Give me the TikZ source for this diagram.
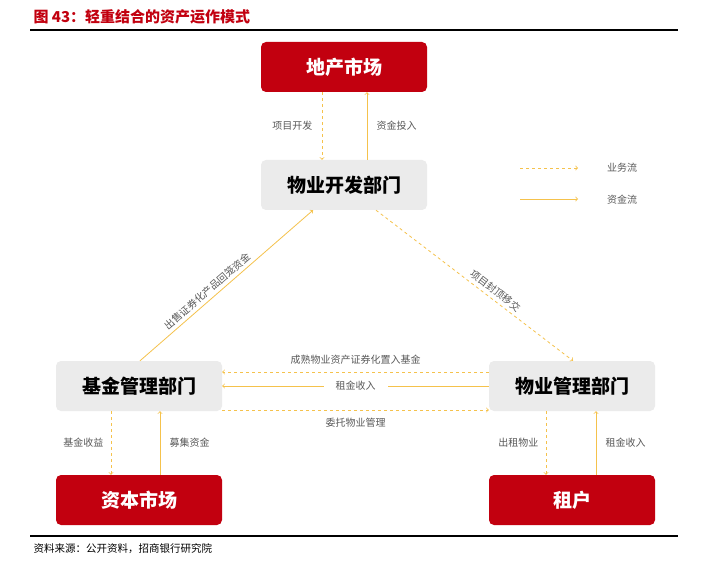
\documentclass[tikz,border=0pt]{standalone}
\usepackage{fontspec}
\setmainfont{Noto Sans CJK SC}
\usepackage{xcolor}
\definecolor{marche}{rgb}{0.76, 0.0, 0.06}
\definecolor{departement}{rgb}{0.92, 0.92, 0.92}
\definecolor{flux}{rgb}{0.96, 0.76, 0.30}
\definecolor{legende}{rgb}{0.35, 0.35, 0.35}
\usepackage{tikz}
\usetikzlibrary{calc}
\tikzstyle{rouge} = [rectangle, rounded corners=5pt, fill=marche, minimum height=50pt, minimum width=166pt, text=white, font=\bfseries\fontsize{19}{21}\selectfont]
\tikzstyle{gris} = [rectangle, rounded corners=5pt, fill=departement, minimum height=50pt, minimum width=166pt, font=\bfseries\fontsize{19}{21}\selectfont]
\tikzstyle{etiquette} = [text=legende, font=\fontsize{10}{12}\selectfont]
\tikzstyle{affaire} = [draw=flux, dashed, thick, ->, >=to]
\tikzstyle{argent} = [draw=flux, thick, ->, >=to]

\begin{document}
\begin{tikzpicture}[x=1pt, y=-1pt]

    \useasboundingbox[fill=white] (0,0) rectangle (712,564);

    \node (titre) [anchor=west, text=marche, font=\bfseries\fontsize{15}{17}\selectfont] at (30,17) {图 43：轻重结合的资产运作模式};
    \draw[line width=1.5pt] (30,30) -- (678,30);

    \node (immobilier) [rouge] at (344,67) {地产市场};
    \node (developpement) [gris] at (344,185) {物业开发部门};
    \node (fonds) [gris] at (139,386) {基金管理部门};
    \node (gestion) [gris] at (572,386) {物业管理部门};
    \node (capital) [rouge] at (139,500) {资本市场};
    \node (locataire) [rouge] at (572,500) {租户};

    \draw[affaire] ($(immobilier.south)+(-22,0)$) -- node[etiquette, left=6pt]{项目开发} ($(developpement.north)+(-22,0)$);
    \draw[argent] ($(developpement.north)+(23,0)$) -- node[etiquette, right=6pt]{资金投入} ($(immobilier.south)+(23,0)$);

    \draw[argent] ($(fonds.north)+(1,0)$) -- node[etiquette, sloped, above, pos=0.42]{出售证券化产品回笼资金} ($(developpement.south)+(-31,0)$);
    \draw[affaire] ($(developpement.south)+(32,0)$) -- node[etiquette, sloped, above, pos=0.58]{项目封顶移交} ($(gestion.north)+(1,0)$);

    \draw[affaire] ($(gestion.west)+(0,-14)$) -- node[etiquette, above=4pt]{成熟物业资产证券化置入基金} ($(fonds.east)+(0,-14)$);
    \draw[argent] (gestion.west) -- node[etiquette, fill=white, inner xsep=12pt]{租金收入} (fonds.east);
    \draw[affaire] ($(fonds.east)+(0,24)$) -- node[etiquette, below=4pt]{委托物业管理} ($(gestion.west)+(0,24)$);

    \draw[affaire] ($(fonds.south)+(-28,0)$) -- node[etiquette, left=4pt]{基金收益} ($(capital.north)+(-28,0)$);
    \draw[argent] ($(capital.north)+(21,0)$) -- node[etiquette, right=6pt]{募集资金} ($(fonds.south)+(21,0)$);
    \draw[affaire] ($(gestion.south)+(-26,0)$) -- node[etiquette, left=4pt]{出租物业} ($(locataire.north)+(-26,0)$);
    \draw[argent] ($(locataire.north)+(24,0)$) -- node[etiquette, right=6pt]{租金收入} ($(gestion.south)+(24,0)$);

    \coordinate (affaireA) at (520,168);
    \coordinate (affaireB) at (578,168);
    \coordinate (argentA) at (520,199);
    \coordinate (argentB) at (578,199);
    \draw[affaire] (affaireA) -- (affaireB);
    \draw[argent] (argentA) -- (argentB);
    \node (legAffaire) [etiquette] at (622,168) {业务流};
    \node (legArgent) [etiquette] at (622,200) {资金流};

    \draw[line width=1.5pt] (30,536) -- (678,536);
    \node (source) [anchor=west, font=\fontsize{10.5}{12}\selectfont] at (30,549) {资料来源：公开资料，招商银行研究院};

\end{tikzpicture}
\end{document}
